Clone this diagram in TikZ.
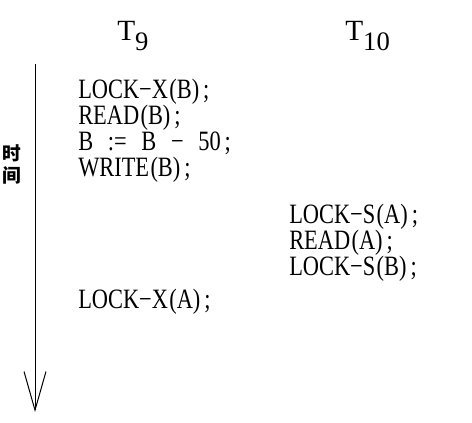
\documentclass[tikz,border=0pt]{standalone}
\usepackage{fontspec}
\usetikzlibrary{arrows.meta}
\newfontfamily\serif{Liberation Serif}
\newfontfamily\codefont[FakeStretch=0.8]{Liberation Serif}
\newfontfamily\cjk{Noto Sans CJK SC}
\newcommand{\txsub}[2]{#1\raisebox{-7pt}{\fontsize{20}{22}\selectfont #2}}
\newcommand{\gap}{\hspace{11pt}}
\newcommand{\oparg}[1]{\kern1pt(#1)\kern3pt;}

\begin{document}
\begin{tikzpicture}[x=0.75pt, y=-0.75pt,
	code/.style={font=\codefont\fontsize{21}{23}\selectfont, anchor=base west, inner sep=0pt},
	txname/.style={font=\serif\fontsize{22}{24}\selectfont, anchor=base west, inner sep=0pt},
	>={Straight Barb[length=29pt, width=16.5pt]}]
	\useasboundingbox (0,0) rectangle (472,423);
	\node[txname] (t9) at (117,41) {\txsub{T}{9}};
	\node[txname] (t10) at (345,41) {\txsub{T}{10}};
	\coordinate (start) at (35,64);
	\coordinate (stop) at (35,412);
	\draw[->, line width=0.75pt] (start) -- (stop);
	\node[font=\cjk\bfseries\fontsize{14}{16.5}\selectfont, align=center, inner sep=0pt] (time) at (12,164) {时\\间};
	% T9
	\node[code] (lxb) at (78,99) {LOCK−X\oparg{B}};
	\node[code] (rdb) at (78,125) {READ\oparg{B}};
	\node[code] (calc) at (78,151) {B\gap:=\gap B\gap−\gap 50\kern3pt;};
	\node[code] (wrb) at (78,177) {WRITE\oparg{B}};
	% T10
	\node[code] (lsa) at (289,224) {LOCK−S\oparg{A}};
	\node[code] (rda) at (289,250) {READ\oparg{A}};
	\node[code] (lsb) at (289,276) {LOCK−S\oparg{B}};
	% T9 again
	\node[code] (lxa) at (78,309) {LOCK−X\oparg{A}};
\end{tikzpicture}
\end{document}
